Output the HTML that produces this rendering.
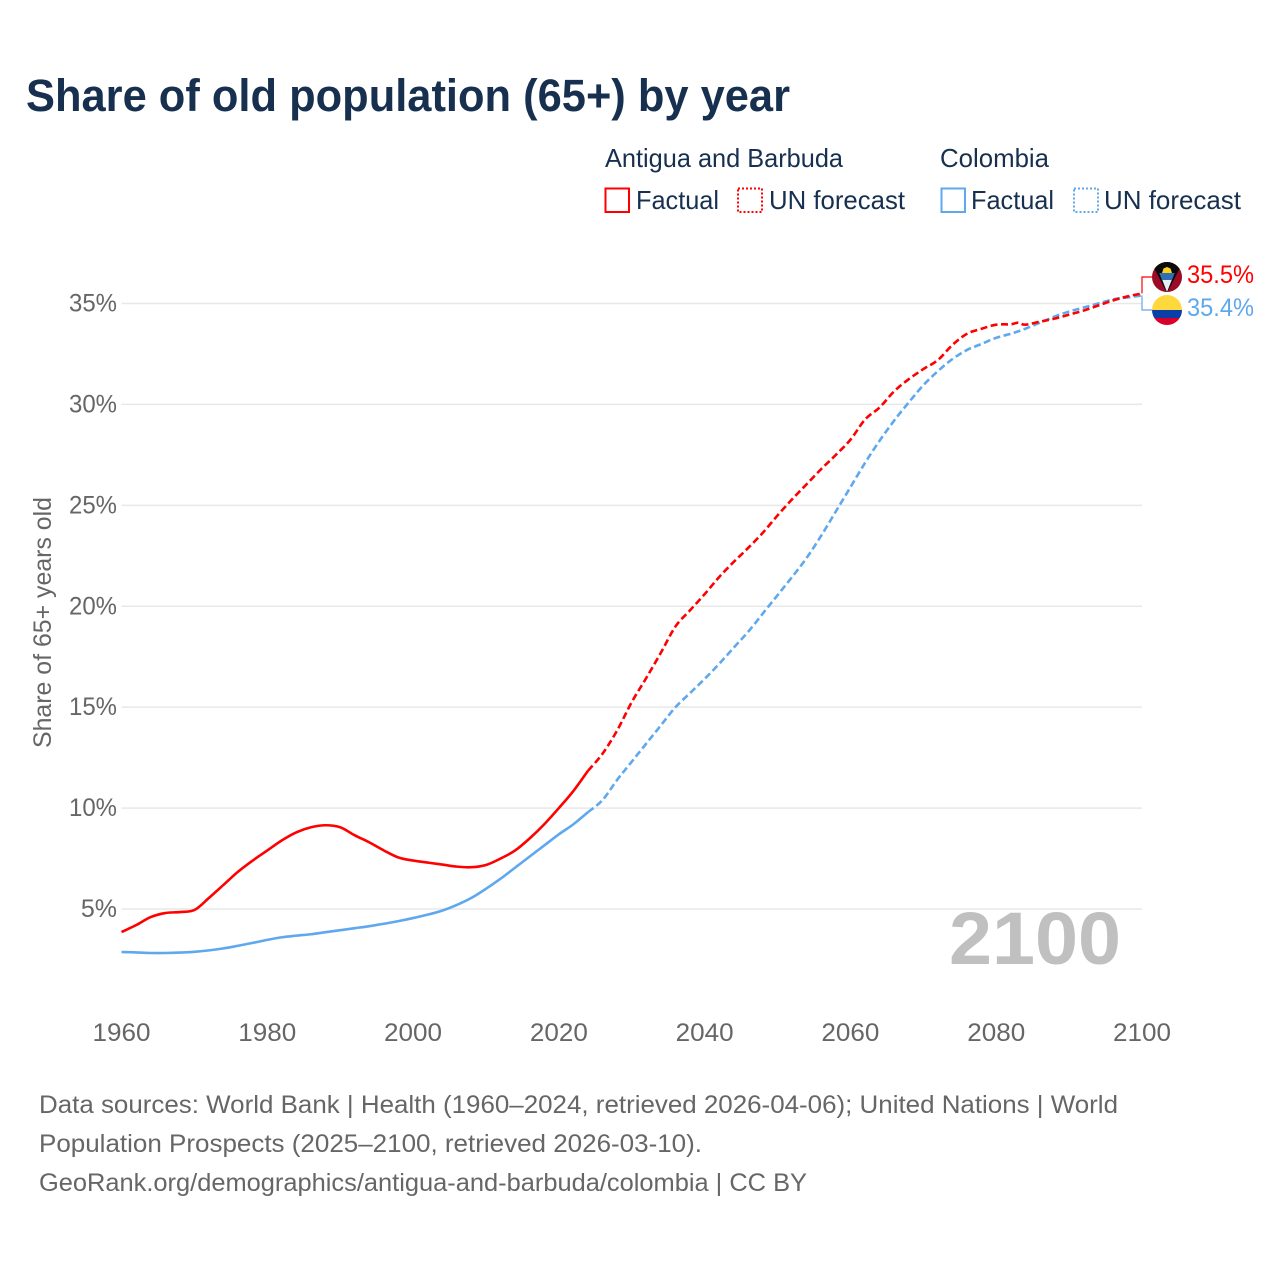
<!DOCTYPE html>
<html lang="en">
<head>
<meta charset="utf-8">
<title>Share of old population (65+) by year</title>
<style>
html,body{margin:0;padding:0;background:#fff;}
svg{display:block;font-family:"Liberation Sans",sans-serif;}
</style>
</head>
<body>
<svg id="chart" width="1280" height="1280" viewBox="0 0 1280 1280" xmlns="http://www.w3.org/2000/svg">
  <defs>
    <clipPath id="flag-clip-a"><circle cx="1167" cy="277" r="15"/></clipPath>
    <clipPath id="flag-clip-c"><circle cx="1167" cy="310" r="15"/></clipPath>
  </defs>
  <rect width="1280" height="1280" fill="#fff"/>
  <text x="26" y="111" font-size="45" font-weight="700" fill="#18304f" textLength="764" lengthAdjust="spacingAndGlyphs">Share of old population (65+) by year</text>

  <g font-size="26" fill="#18304f">
    <text x="605" y="167" textLength="238" lengthAdjust="spacingAndGlyphs">Antigua and Barbuda</text>
    <rect x="605.5" y="188.5" width="23.5" height="23.5" fill="none" stroke="#ff0000" stroke-width="2"/>
    <text x="636" y="209" textLength="83" lengthAdjust="spacingAndGlyphs">Factual</text>
    <rect x="738" y="188.5" width="24" height="23.5" fill="none" stroke="#ff0000" stroke-width="2" stroke-dasharray="2 2"/>
    <text x="769" y="209" textLength="136" lengthAdjust="spacingAndGlyphs">UN forecast</text>
    <text x="940" y="167" textLength="109" lengthAdjust="spacingAndGlyphs">Colombia</text>
    <rect x="941.5" y="188.5" width="23.5" height="23.5" fill="none" stroke="#5fa8ee" stroke-width="2"/>
    <text x="971" y="209" textLength="83" lengthAdjust="spacingAndGlyphs">Factual</text>
    <rect x="1074" y="188.5" width="24" height="23.5" fill="none" stroke="#5fa8ee" stroke-width="2" stroke-dasharray="2 2"/>
    <text x="1104" y="209" textLength="137" lengthAdjust="spacingAndGlyphs">UN forecast</text>
  </g>

  <g id="grid"></g>
  <g id="y-ticks"></g>
  <g id="x-ticks"></g>
  <text transform="translate(51,622.5) rotate(-90)" text-anchor="middle" font-size="25" fill="#666" textLength="251" lengthAdjust="spacingAndGlyphs">Share of 65+ years old</text>
  <text x="949" y="964" font-size="74" font-weight="700" fill="#c0c0c0" textLength="172" lengthAdjust="spacingAndGlyphs">2100</text>
  <g id="series"></g>

  <g>
    <g clip-path="url(#flag-clip-a)">
      <rect x="1152" y="262" width="30" height="30" fill="#9c0a26"/>
      <polygon points="1152,262 1182,262 1182,264 1167,293 1152,264" fill="#0a0a0a"/>
      <polygon points="1159.5,273 1174.5,273 1167,292" fill="#e8edf3"/>
      <polygon points="1159.5,273 1174.5,273 1172,280 1162,280" fill="#2f6fb5"/>
      <path d="M1162 273 L1163.5 268.5 L1167 267 L1170.5 268.5 L1172 273 Z" fill="#fcd116"/>
    </g>
    <g clip-path="url(#flag-clip-c)">
      <rect x="1152" y="295" width="30" height="15" fill="#ffd83d"/>
      <rect x="1152" y="310" width="30" height="8" fill="#0b3fa8"/>
      <rect x="1152" y="318" width="30" height="7" fill="#d8002b"/>
    </g>
    <text x="1187" y="283" font-size="25" fill="#ff0000" textLength="67" lengthAdjust="spacingAndGlyphs">35.5%</text>
    <text x="1187" y="316" font-size="25" fill="#5fa8ee" textLength="67" lengthAdjust="spacingAndGlyphs">35.4%</text>
  </g>

  <g font-size="25" fill="#666">
    <text x="39" y="1113" textLength="1079" lengthAdjust="spacingAndGlyphs">Data sources: World Bank | Health (1960–2024, retrieved 2026-04-06); United Nations | World</text>
    <text x="39" y="1152" textLength="663" lengthAdjust="spacingAndGlyphs">Population Prospects (2025–2100, retrieved 2026-03-10).</text>
    <text x="39" y="1191" textLength="768" lengthAdjust="spacingAndGlyphs">GeoRank.org/demographics/antigua-and-barbuda/colombia | CC BY</text>
  </g>
</svg>
<script>
const yTickValues = [5, 10, 15, 20, 25, 30, 35];
const xTickValues = [1960, 1980, 2000, 2020, 2040, 2060, 2080, 2100];
const factualYears = [1960,1962,1964,1966,1968,1970,1972,1974,1976,1978,1980,1982,1984,1986,1988,1990,1992,1994,1996,1998,2000,2002,2004,2006,2008,2010,2012,2014,2016,2018,2020,2022,2024];
const forecastYears = [2024,2026,2028,2030,2032,2034,2036,2038,2040,2042,2044,2046,2048,2050,2052,2054,2056,2058,2060,2062,2064,2066,2068,2070,2072,2074,2076,2078,2080,2082,2083,2084,2086,2088,2090,2092,2094,2096,2098,2100];
const antiguaFactual = [3.86,4.2,4.6,4.8,4.85,4.95,5.55,6.2,6.85,7.4,7.9,8.4,8.8,9.05,9.15,9.05,8.65,8.3,7.9,7.55,7.4,7.3,7.2,7.1,7.07,7.18,7.5,7.9,8.5,9.2,10,10.85,11.85];
const colombiaFactual = [2.87,2.85,2.82,2.82,2.84,2.88,2.95,3.05,3.18,3.32,3.47,3.6,3.68,3.75,3.85,3.95,4.05,4.15,4.27,4.4,4.55,4.72,4.92,5.2,5.55,6.0,6.5,7.05,7.6,8.15,8.7,9.2,9.8];
const antiguaForecast = [11.85,12.7,13.85,15.25,16.45,17.7,19,19.8,20.6,21.45,22.2,22.9,23.65,24.5,25.3,26.05,26.8,27.5,28.25,29.25,29.85,30.65,31.25,31.75,32.2,32.95,33.5,33.75,33.95,33.97,34.05,33.95,34.1,34.25,34.45,34.65,34.9,35.15,35.35,35.5];
const colombiaForecast = [9.8,10.4,11.4,12.3,13.2,14.1,15,15.7,16.4,17.15,17.95,18.75,19.65,20.55,21.45,22.4,23.5,24.7,25.9,27.1,28.2,29.2,30.1,30.95,31.65,32.25,32.7,33,33.3,33.5,33.62,33.75,34.05,34.35,34.6,34.8,35,35.2,35.3,35.4];
const RED = '#ff0000';
const BLUE = '#5fa8ee';
const NS = 'http://www.w3.org/2000/svg';

function xScale(year) { return 121.5 + (year - 1960) * (1142 - 121.5) / 140; }
function yScale(v) { return 909 - (v - 5) * (909 - 303.5) / 30; }

function smoothPath(years, values) {
  const p = years.map((y, i) => [xScale(y), yScale(values[i])]);
  let d = 'M' + p[0][0].toFixed(2) + ' ' + p[0][1].toFixed(2);
  for (let i = 0; i < p.length - 1; i++) {
    const a = p[Math.max(i - 1, 0)], b = p[i], c = p[i + 1], e = p[Math.min(i + 2, p.length - 1)];
    const c1x = b[0] + (c[0] - a[0]) / 6, c1y = b[1] + (c[1] - a[1]) / 6;
    const c2x = c[0] - (e[0] - b[0]) / 6, c2y = c[1] - (e[1] - b[1]) / 6;
    d += 'C' + c1x.toFixed(2) + ' ' + c1y.toFixed(2) + ' ' + c2x.toFixed(2) + ' ' + c2y.toFixed(2) + ' ' + c[0].toFixed(2) + ' ' + c[1].toFixed(2);
  }
  return d;
}

const grid = document.getElementById('grid');
const yTicks = document.getElementById('y-ticks');
const xTicks = document.getElementById('x-ticks');
const seriesGroup = document.getElementById('series');

yTickValues.forEach(function (v) {
  const line = document.createElementNS(NS, 'line');
  
  
  line.setAttribute('x1', xScale(1960));
  line.setAttribute('x2', xScale(2100));
  line.setAttribute('y1', yScale(v));
  line.setAttribute('y2', yScale(v));
  line.setAttribute('stroke', '#e8e8e8');
  line.setAttribute('stroke-width', '1.5');
  grid.appendChild(line);

  const label = document.createElementNS(NS, 'text');
  
  
  label.setAttribute('x', 117);
  label.setAttribute('y', yScale(v) + 8);
  label.setAttribute('text-anchor', 'end');
  label.setAttribute('font-size', '25');
  label.setAttribute('fill', '#666');
  if (v >= 10) {
    label.setAttribute('textLength', '48');
    label.setAttribute('lengthAdjust', 'spacingAndGlyphs');
  }
  label.textContent = v + '%';
  yTicks.appendChild(label);
});

xTickValues.forEach(function (year) {
  const label = document.createElementNS(NS, 'text');
  
  
  label.setAttribute('x', xScale(year));
  label.setAttribute('y', 1041);
  label.setAttribute('text-anchor', 'middle');
  label.setAttribute('font-size', '25');
  label.setAttribute('fill', '#666');
  label.setAttribute('textLength', '58');
  label.setAttribute('lengthAdjust', 'spacingAndGlyphs');
  label.textContent = year;
  xTicks.appendChild(label);
});

function addLine(name, years, values, color, dashed) {
  const path = document.createElementNS(NS, 'path');
  
  
  path.setAttribute('d', smoothPath(years, values));
  path.setAttribute('fill', 'none');
  path.setAttribute('stroke', color);
  path.setAttribute('stroke-width', '2.6');
  path.setAttribute('stroke-linejoin', 'round');
  if (dashed) path.setAttribute('stroke-dasharray', '7 3.5');
  seriesGroup.appendChild(path);
}

addLine('line-colombia-factual', factualYears, colombiaFactual, BLUE, false);
addLine('line-colombia-forecast', forecastYears, colombiaForecast, BLUE, true);
addLine('line-antigua-factual', factualYears, antiguaFactual, RED, false);
addLine('line-antigua-forecast', forecastYears, antiguaForecast, RED, true);

function addConnector(name, value, labelY, color) {
  const x0 = xScale(2100);
  const poly = document.createElementNS(NS, 'polyline');
  
  
  poly.setAttribute('points', x0 + ',' + yScale(value) + ' ' + x0 + ',' + labelY + ' ' + (x0 + 11) + ',' + labelY);
  poly.setAttribute('fill', 'none');
  poly.setAttribute('stroke', color);
  poly.setAttribute('stroke-width', '1.2');
  seriesGroup.appendChild(poly);
}
addConnector('connector-colombia', colombiaForecast[colombiaForecast.length - 1], 310, BLUE);
addConnector('connector-antigua', antiguaForecast[antiguaForecast.length - 1], 277, RED);
</script>
</body>
</html>
